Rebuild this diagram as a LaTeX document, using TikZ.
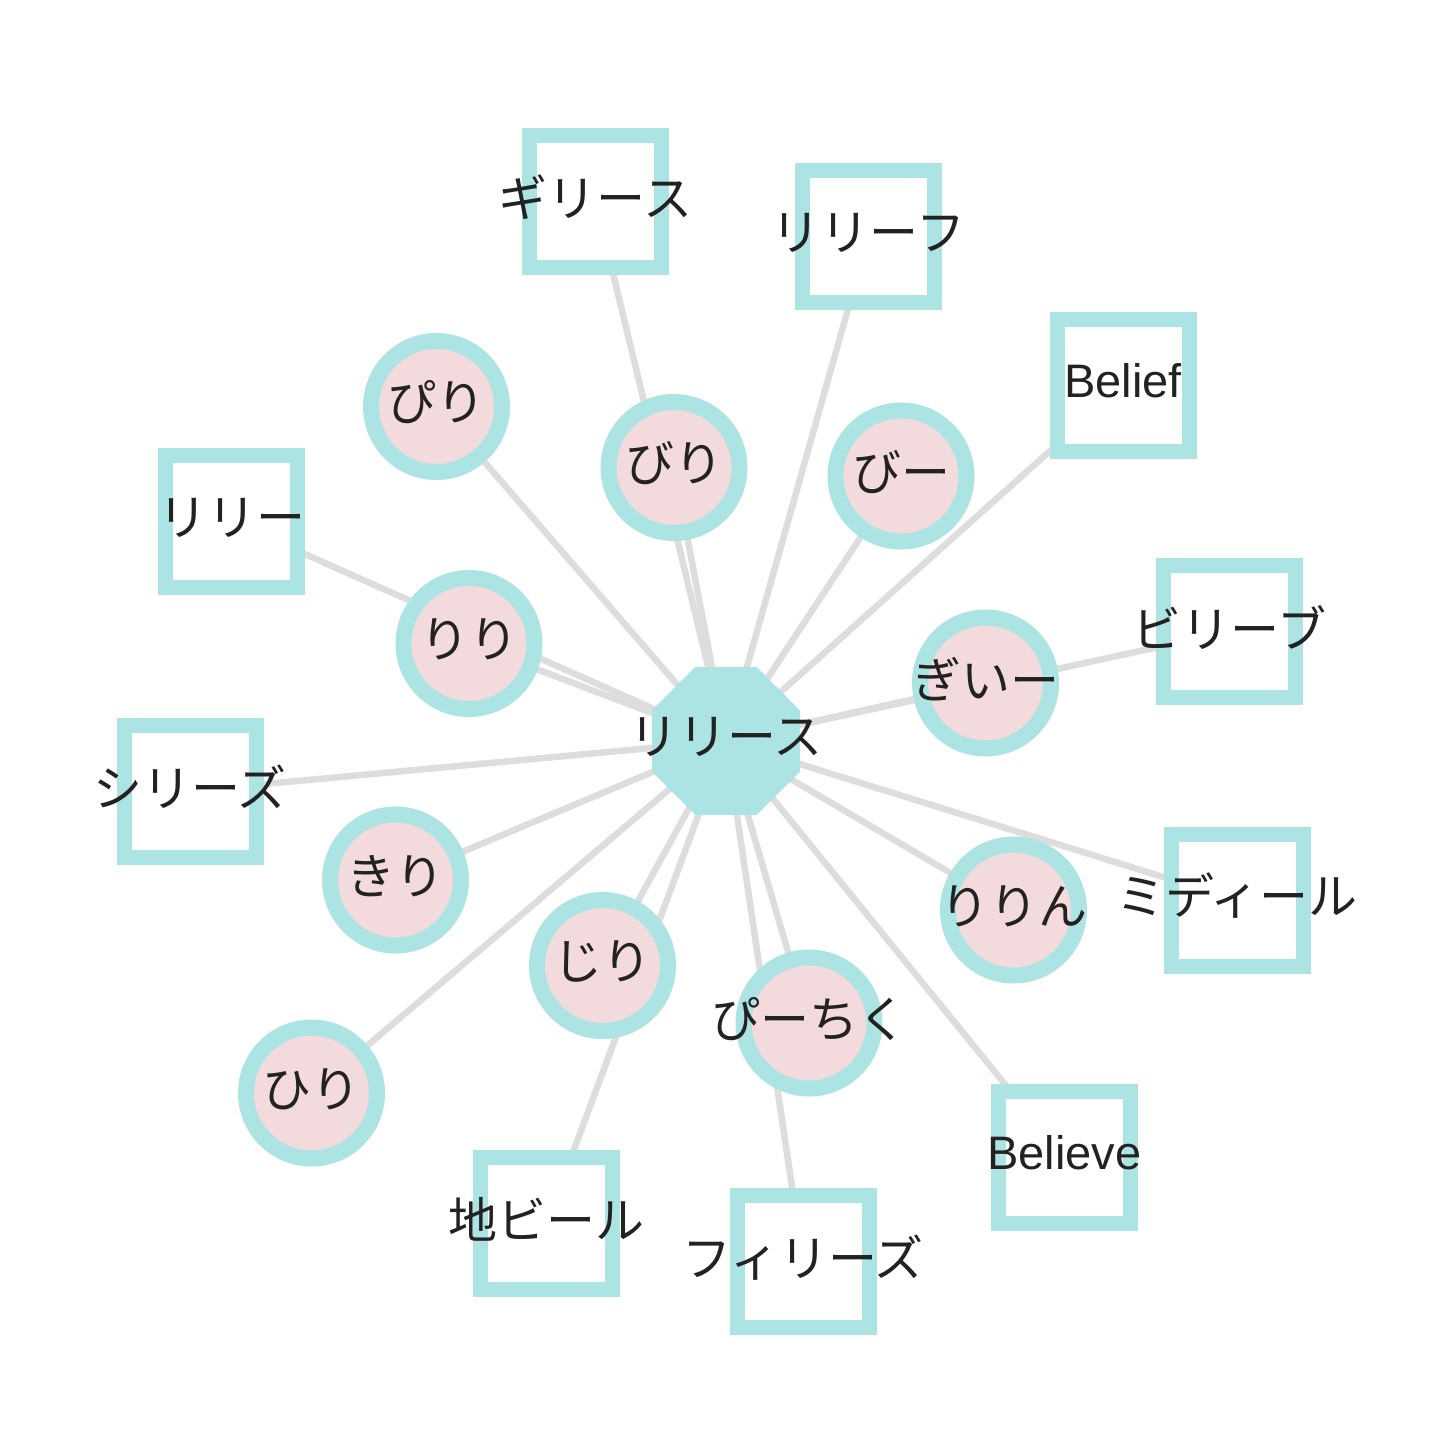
\documentclass[tikz,border=0pt]{standalone}
\usepackage{fontspec}
\setmainfont{Liberation Sans}
\newfontfamily\jpfont{Noto Sans CJK JP}
\usetikzlibrary{shapes.geometric,backgrounds}
\definecolor{cyanb}{HTML}{ABE4E3}
\definecolor{pinkf}{HTML}{F3DADC}
\definecolor{edgeg}{HTML}{DDDDDD}
\definecolor{txt}{HTML}{222222}
\tikzset{
  hub/.style={regular polygon, regular polygon sides=8, minimum size=160pt, inner sep=0pt, fill=cyanb},
  sq/.style={rectangle, minimum size=132pt, inner sep=0pt, draw=cyanb, line width=15pt, fill=white},
  cir/.style={circle, minimum size=131pt, inner sep=0pt, draw=cyanb, line width=16pt, fill=pinkf},
  lbl/.style={font=\jpfont\fontsize{49}{58}\selectfont, text=txt, inner sep=0pt, yshift=4pt},
  lbllat/.style={font=\fontsize{47}{56}\selectfont, text=txt, inner sep=0pt, yshift=5pt},
  link/.style={draw=edgeg, line width=6.5pt}
}
\begin{document}
\begin{tikzpicture}[x=1pt,y=-1pt]
\useasboundingbox (0,0) rectangle (1440,1456);
% shapes
\node[hub] (hub) at (726,741) {};
\node[sq] (s1) at (595.5,201) {};
\node[sq] (s2) at (868.5,236.5) {};
\node[sq] (s3) at (1123,385.5) {};
\node[sq] (s4) at (231.5,521.5) {};
\node[sq] (s5) at (1229.5,631.5) {};
\node[sq] (s6) at (190,791) {};
\node[sq] (s7) at (1237,900) {};
\node[sq] (s8) at (1064.5,1157.5) {};
\node[sq] (s9) at (546.5,1223.5) {};
\node[sq] (s10) at (803,1261.5) {};
\node[cir] (c1) at (436.5,406.5) {};
\node[cir] (c2) at (674,467.5) {};
\node[cir] (c3) at (901,476) {};
\node[cir] (c4) at (469,643.5) {};
\node[cir] (c5) at (985.5,683) {};
\node[cir] (c6) at (395.5,880) {};
\node[cir] (c7) at (602.5,965.5) {};
\node[cir] (c8) at (1013.5,910) {};
\node[cir] (c9) at (809,1023) {};
\node[cir] (c10) at (311.5,1093) {};
% edges
\begin{scope}[on background layer]
  \fill[white] (0,0) rectangle (1440,1456);
  \foreach \n in {s1,s2,s3,s4,s5,s6,s7,s8,s9,s10,c1,c2,c3,c4,c5,c6,c7,c8,c9,c10}
    \draw[link] (hub.center) -- (\n.center);
\end{scope}
% labels
\node[lbl] (t0) at (hub) {リリース};
\node[lbl] (t1) at (s1) {ギリース};
\node[lbl] (t2) at (s2) {リリーフ};
\node[lbllat] (t3) at (s3) {Belief};
\node[lbl] (t4) at (s4) {リリー};
\node[lbl] (t5) at (s5) {ビリーブ};
\node[lbl] (t6) at (s6) {シリーズ};
\node[lbl] (t7) at (s7) {ミディール};
\node[lbllat] (t8) at (s8) {Believe};
\node[lbl] (t9) at (s9) {地ビール};
\node[lbl] (t10) at (s10) {フィリーズ};
\node[lbl] (u1) at (c1) {ぴり};
\node[lbl] (u2) at (c2) {びり};
\node[lbl] (u3) at (c3) {びー};
\node[lbl] (u4) at (c4) {りり};
\node[lbl] (u5) at (c5) {ぎいー};
\node[lbl] (u6) at (c6) {きり};
\node[lbl] (u7) at (c7) {じり};
\node[lbl] (u8) at (c8) {りりん};
\node[lbl] (u9) at (c9) {ぴーちく};
\node[lbl] (u10) at (c10) {ひり};
\end{tikzpicture}
\end{document}
